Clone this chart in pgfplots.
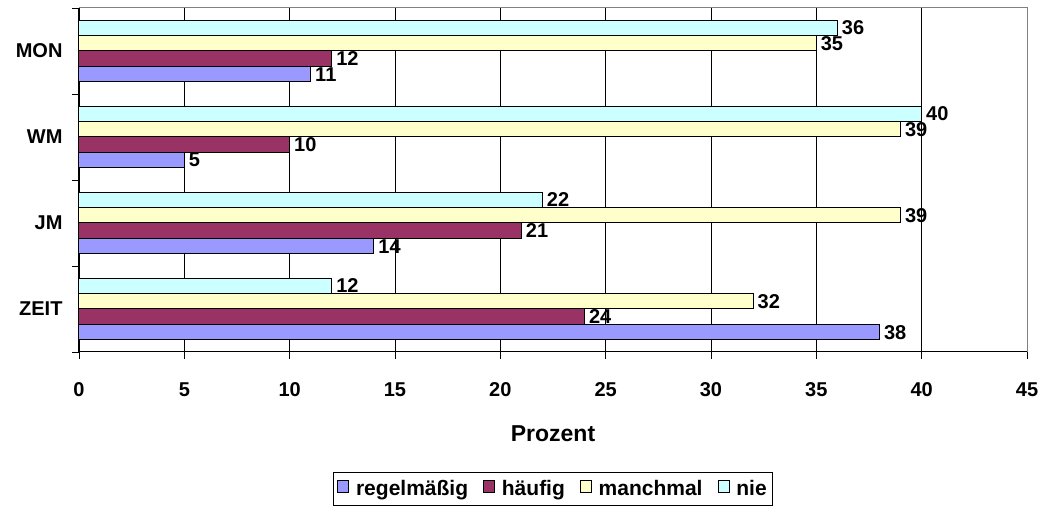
\documentclass[border=0pt]{standalone}
\usepackage{fontspec}
\setmainfont{Liberation Sans}
\usepackage{pgfplots}
\pgfplotsset{compat=1.18}
\definecolor{cReg}{HTML}{9999FF}
\definecolor{cHae}{HTML}{993366}
\definecolor{cMan}{HTML}{FFFFCC}
\definecolor{cNie}{HTML}{CCFFFF}
\newcommand{\lab}{\bfseries\fontsize{20}{22}\selectfont}
\begin{document}
\begin{tikzpicture}[x=1pt,y=1pt]
\useasboundingbox (-79,-158) rectangle (966,352);
\begin{axis}[
  at={(0,0)}, anchor=south west,
  scale only axis, width=948pt, height=344pt,
  xbar, bar width=0.18, clip=false,
  xmin=0, xmax=45, xtick={0,5,...,45},
  ymin=0.5, ymax=4.5,
  ytick={0.5,1.5,2.5,3.5,4.5}, yticklabels={,,,,,},
  extra y ticks={1,2,3,4}, extra y tick labels={ZEIT,JM,WM,MON},
  extra y tick style={major tick length=0pt, grid=none},
  axis line style={draw=none},
  tick align=outside, tick pos=left, major tick length=7pt,
  tick style={black, line width=0.9pt},
  xmajorgrids, grid style={black, line width=0.9pt},
  /pgf/number format/assume math mode=true,
  ticklabel style={font=\lab},
  xticklabel style={yshift=-20pt},
  yticklabel style={xshift=-13pt},
  xlabel=Prozent,
  xlabel style={font=\bfseries\fontsize{23}{25}\selectfont, at={(axis description cs:0.5,-0.2616)}, anchor=base},
  every axis plot/.append style={draw=black, line width=1pt},
  nodes near coords,
  nodes near coords style={font=\lab, black, anchor=west, inner sep=4pt},
  legend columns=-1,
  legend style={at={(axis description cs:0.5,-0.349)}, anchor=north, draw=black, line width=0.8pt,
    font=\bfseries\fontsize{21}{23}\selectfont, inner ysep=6pt, inner xsep=4pt,
    /tikz/every odd column/.append style={column sep=5pt},
    /tikz/every even column/.append style={column sep=13pt}},
  legend image code/.code={\draw[#1, line width=0.8pt] (0pt,-4pt) rectangle (11pt,8pt);},
]
\addplot[fill=cReg, bar shift=-0.27] coordinates {(38,1) (14,2) (5,3) (11,4)};
\addplot[fill=cHae, bar shift=-0.09] coordinates {(24,1) (21,2) (10,3) (12,4)};
\addplot[fill=cMan, bar shift=0.09] coordinates {(32,1) (39,2) (39,3) (35,4)};
\addplot[fill=cNie, bar shift=0.27] coordinates {(12,1) (22,2) (40,3) (36,4)};
\legend{regelmäßig, häufig, manchmal, nie}
\draw[gray, line width=1pt] (rel axis cs:0,1) -- (rel axis cs:1,1) -- (rel axis cs:1,0);
\draw[black, line width=1pt] (rel axis cs:0,1) -- (rel axis cs:0,0) -- (rel axis cs:1,0);
\end{axis}
\end{tikzpicture}
\end{document}
